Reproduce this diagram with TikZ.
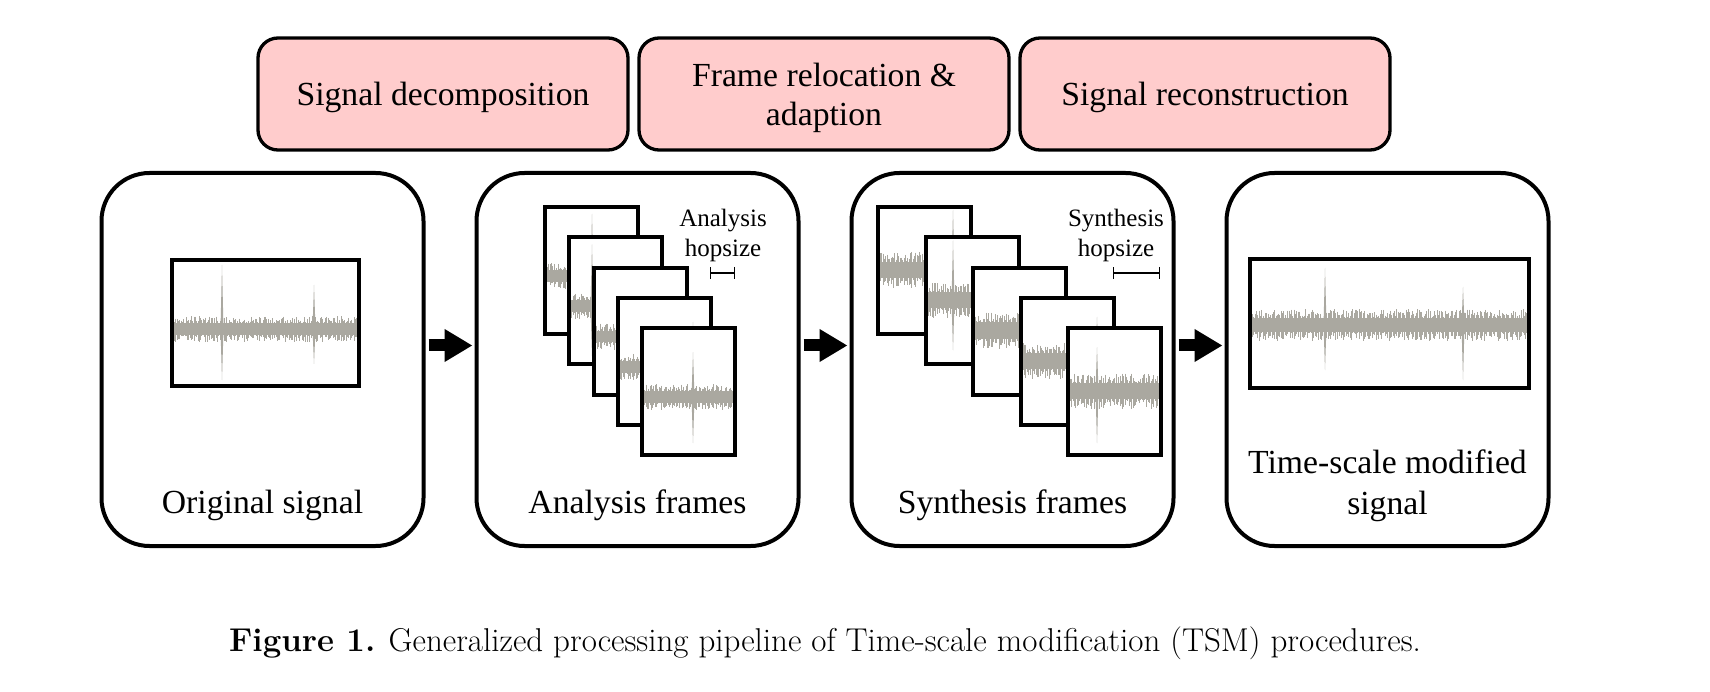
\documentclass[tikz,border=0pt]{standalone}
\usepackage{fontspec}
\setmainfont{Liberation Serif}
\newfontfamily\capfont{Latin Modern Roman}
\usetikzlibrary{arrows.meta, positioning}
\definecolor{wavegray}{RGB}{170,168,160}
\definecolor{stagepink}{RGB}{255,204,204}

\tikzset{
  panel/.style={draw, line width=4pt, rounded corners=48pt, fill=white, minimum width=322pt, minimum height=373pt, outer sep=0pt},
  stagebox/.style={draw, line width=3.3pt, rounded corners=20pt, fill=stagepink, minimum width=370pt, minimum height=112pt, align=center, outer sep=0pt, text depth=0pt, font=\fontsize{33.7}{39}\selectfont},
  paneltext/.style={align=center, text depth=0pt, font=\fontsize{33.7}{41}\selectfont},
  hoptext/.style={align=center, text depth=0pt, font=\fontsize{25}{30}\selectfont},
  framebox/.style={draw, line width=4pt},
  sigbox/.style={draw, line width=3.3pt},
  flowarrow/.style={line width=12pt, -{Triangle[length=28pt, width=31pt]}, shorten <=5pt, shorten >=4pt},
  hopbar/.style={line width=1.3pt, {Bar[width=12pt]}-{Bar[width=12pt]}}
}

% noise band: from x #1 to x #2, centre #3, half height #4
\newcommand{\sigband}[4]{%
  \fill[wavegray] (#1,{(#3)-0.45*(#4)}) rectangle (#2,{(#3)+0.45*(#4)});
  \pgfmathtruncatemacro{\nlines}{((#2)-(#1))/1.3}
  \foreach \k in {0,...,\nlines} {
    \pgfmathsetmacro{\hh}{(#4)*(0.45+0.55*rnd)}
    \pgfmathsetmacro{\hl}{(#4)*(0.45+0.55*rnd)}
    \draw[wavegray, line width=0.9pt] ({(#1)+1.3*\k},{(#3)-\hh}) -- ({(#1)+1.3*\k},{(#3)+\hl});
  }
}
% spike at x #1, centre #2, up #3, down #4
\newcommand{\sigspike}[4]{%
  \fill[wavegray] ({(#1)-1.5},{#2}) -- ({#1},{(#2)-(#3)}) -- ({(#1)+1.5},{#2}) -- ({#1},{(#2)+(#4)}) -- cycle;
}

\begin{document}
\begin{tikzpicture}[x=1pt, y=-1pt]
\useasboundingbox (0,0) rectangle (1710,692);
\pgfmathsetseed{7}

% processing stages
\node[stagebox] (decomp) at (443,94) {Signal decomposition};
\node[stagebox, right=11pt of decomp] (reloc) {Frame relocation \&\\adaption};
\node[stagebox, right=11pt of reloc] (recon) {Signal reconstruction};

% panels
\node[panel] (orig) at (262.5,359.5) {};
\node[panel, right=53pt of orig] (anal) {};
\node[panel, right=53pt of anal] (synth) {};
\node[panel, right=53pt of synth] (tsm) {};

\foreach \a/\b in {orig/anal, anal/synth, synth/tsm}
  \draw[flowarrow] ([yshift=14pt]\a.east) -- ([yshift=14pt]\b.west);

\node[paneltext] (origtxt) at ([yshift=44pt]orig.south) {Original signal};
\node[paneltext] (analtxt) at ([yshift=44pt]anal.south) {Analysis frames};
\node[paneltext] (synthtxt) at ([yshift=44pt]synth.south) {Synthesis frames};
\node[paneltext] (tsmtxt) at ([yshift=64pt]tsm.south) {Time-scale modified\\signal};

% original signal
\begin{scope}
  \clip (172,260) rectangle (359,386);
  \sigband{172}{359}{329}{13}
  \sigspike{222}{329}{64}{51}
  \sigspike{314}{329}{44}{35}
\end{scope}
\draw[sigbox] (172,260) rectangle (359,386);

% analysis frames
\foreach \i in {0,...,4} {
  \pgfmathsetmacro{\fx}{545+24.3*\i}
  \pgfmathsetmacro{\fy}{207+30.3*\i}
  \begin{scope}
    \clip (\fx,\fy) rectangle ++(93,127);
    \fill[white] (\fx,\fy) rectangle ++(93,127);
    \sigband{\fx}{\fx+93}{\fy+69}{13}
    \sigspike{592}{\fy+69}{62}{50}
    \sigspike{693}{\fy+69}{45}{46}
  \end{scope}
  \draw[framebox] (\fx,\fy) rectangle ++(93,127);
}
\node[hoptext] (ahop) at (723,233) {Analysis\\hopsize};
\draw[hopbar] (710,273) -- (735,273);

% synthesis frames
\foreach \i in {0,...,4} {
  \pgfmathsetmacro{\fx}{878+47.5*\i}
  \pgfmathsetmacro{\fy}{207+30.3*\i}
  \begin{scope}
    \clip (\fx,\fy) rectangle ++(93,127);
    \fill[white] (\fx,\fy) rectangle ++(93,127);
    \sigband{\fx}{\fx+93}{\fy+63}{18}
    \sigspike{953}{\fy+63}{60}{50}
    \sigspike{1097}{\fy+63}{44}{52}
  \end{scope}
  \draw[framebox] (\fx,\fy) rectangle ++(93,127);
}
\node[hoptext] (shop) at (1116,233) {Synthesis\\hopsize};
\draw[hopbar] (1113,273) -- (1160,273);

% time-scale modified signal
\begin{scope}
  \clip (1250,259) rectangle (1529,388);
  \sigband{1250}{1529}{325}{16}
  \sigspike{1325}{325}{57}{45}
  \sigspike{1463}{325}{38}{55}
\end{scope}
\draw[sigbox] (1250,259) rectangle (1529,388);

\node[font=\capfont\fontsize{33}{38}\selectfont] (caption) at (825,643) {\textbf{Figure 1.} Generalized processing pipeline of Time-scale modification (TSM) procedures.};
\end{tikzpicture}
\end{document}
